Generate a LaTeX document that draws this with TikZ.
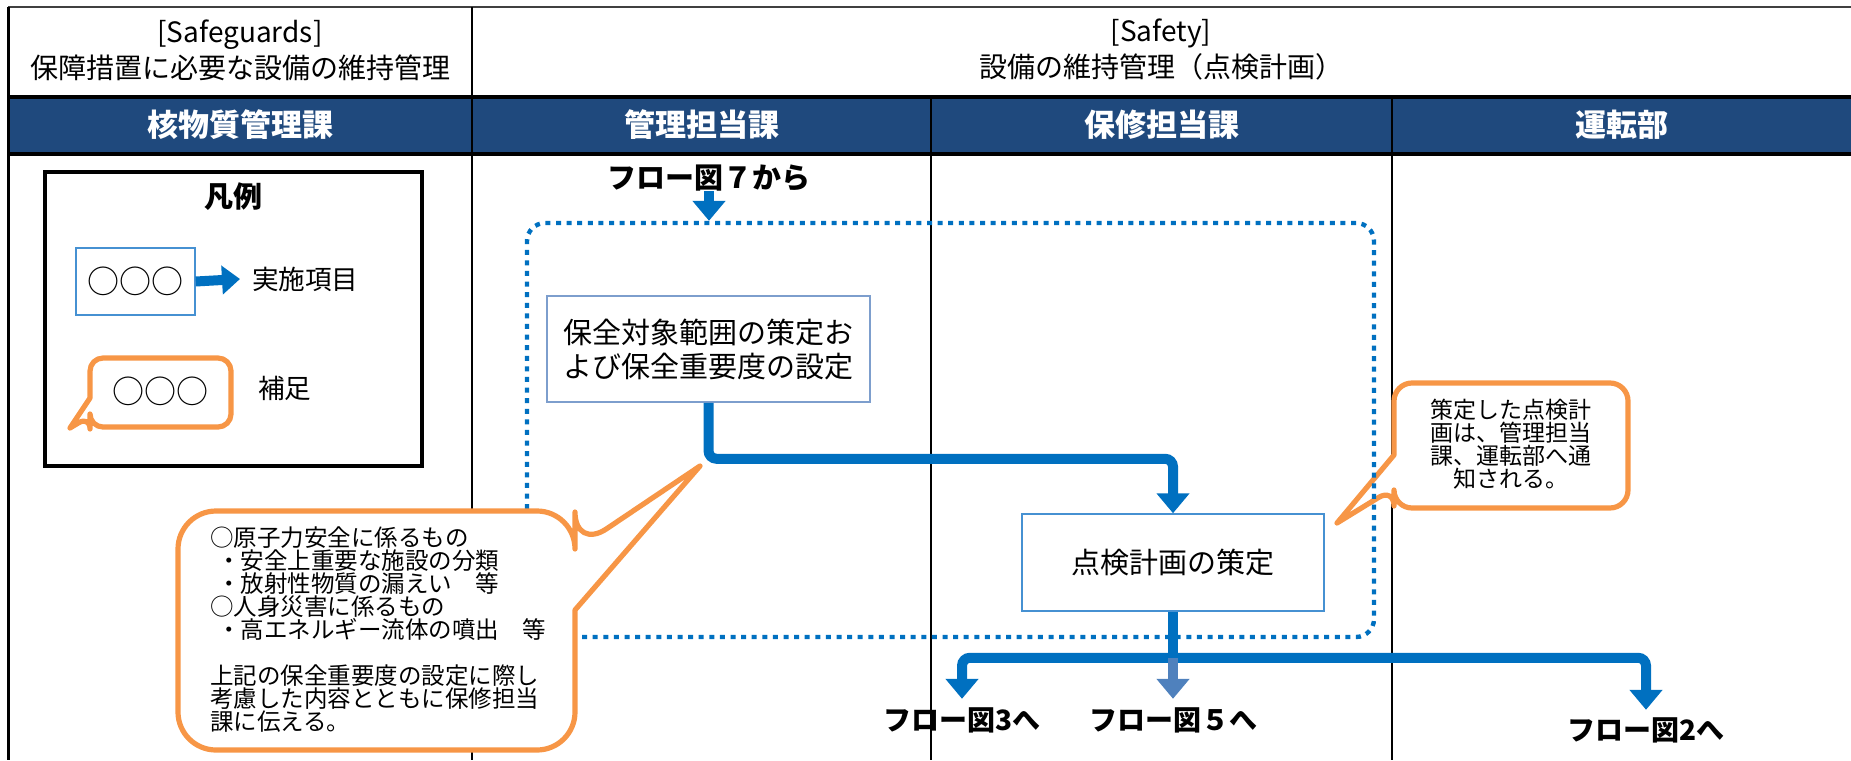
\documentclass[tikz,border=0pt]{standalone}
\usepackage{fontspec}
\setmainfont{Noto Sans CJK JP}
\usetikzlibrary{arrows.meta,calc}
\definecolor{hdrblue}{RGB}{31,73,125}
\definecolor{flowblue}{RGB}{0,112,192}
\definecolor{midblue}{RGB}{79,129,189}
\definecolor{boxone}{RGB}{125,158,205}
\definecolor{boxtwo}{RGB}{70,145,210}
\definecolor{callorange}{RGB}{247,150,70}
\newcommand\myfs[2]{\fontsize{#1}{#2}\selectfont}
\begin{document}
\begin{tikzpicture}[x=0.5pt,y=-0.5pt,
  txt/.style={inner sep=0pt, outer sep=0pt},
  hdr/.style={txt, text=white, font=\bfseries\myfs{15.5pt}{18pt}},
  stepbox/.style={draw=#1, line width=0.75pt, fill=white, inner sep=0pt, align=center, font=\myfs{14.5pt}{17pt}},
  flow/.style={draw=flowblue, line width=5pt, rounded corners=4pt, -{Triangle[width=16pt,length=10pt]}},
  flowline/.style={draw=flowblue, line width=5pt},
  bubble/.style={draw=callorange, line width=2.6pt, fill=white, line join=round},
  grid/.style={draw=black, line width=1.2pt},
  flowlabel/.style={txt, font=\bfseries\myfs{14.5pt}{16pt}},
]
\useasboundingbox (0,0) rectangle (1851,760);
% table
\fill[hdrblue] (8,97) rectangle (1851,154);
\draw[line width=1pt, draw=black!75] (8,7) -- (1851,7);
\draw[grid, line width=1.6pt] (8,97) -- (1851,97) (8,154) -- (1851,154);
\draw[grid, line width=1.5pt] (8,7) -- (8,760);
\draw[grid] (472,7) -- (472,760) (931,97) -- (931,760) (1392,97) -- (1392,760);
% header texts
\node[txt, align=center, font=\myfs{14pt}{18pt}] (sg) at (240,50) {[Safeguards]\\保障措置に必要な設備の維持管理};
\node[txt, align=center, font=\myfs{14pt}{18pt}] (sf) at (1161,50) {[Safety]\\設備の維持管理（点検計画）};
\node[hdr] (h1) at (240,125) {核物質管理課};
\node[hdr] (h2) at (701.5,125) {管理担当課};
\node[hdr] (h3) at (1161.5,125) {保修担当課};
\node[hdr] (h4) at (1621.5,125) {運転部};
% legend
\node[draw=black, line width=2pt, minimum width=188.5pt, minimum height=147pt, inner sep=0pt] (legend) at (233.5,319) {};
\node[txt, font=\bfseries\myfs{14.5pt}{16pt}] (lgtitle) at (233,197) {凡例};
\node[stepbox=boxtwo, minimum width=59.5pt, minimum height=33.5pt, font=\myfs{16pt}{18pt}] (lgbox) at (135.5,281.5) {○○○};
\node[txt, anchor=west, font=\myfs{13.3pt}{16pt}] (lgtext) at (252,279) {実施項目};
\draw[flow, -{Triangle[width=14pt,length=9pt]}] (lgbox.east) -- ([xshift=-6pt]lgtext.west);
\draw[bubble] (160,358) [rounded corners=6.5pt] -- (231,358) -- (231,427) -- (90,427) -- (90,416) [sharp corners] -- (70,428) -- (90,398) [rounded corners=6.5pt] -- (90,358) -- cycle;
\node[txt, font=\myfs{16pt}{18pt}] (lgctext) at (160,391) {○○○};
\node[txt, anchor=west, font=\myfs{13.3pt}{16pt}] (lgnote) at (258,388) {補足};
% callout 2 (under the frame)
\draw[bubble] (1511,383) [rounded corners=9pt] -- (1628,383) -- (1628,508) -- (1394,508) -- (1394,488) [sharp corners] -- (1337,523) -- (1394,455) [rounded corners=9pt] -- (1394,383) -- cycle;
\node[txt, align=center, font=\myfs{11.5pt}{11.4pt}] (c2text) at (1511,444) {策定した点検計\\画は、管理担当\\課、運転部へ通\\知される。};
% frame
\node[draw=flowblue, line width=2.2pt, dash pattern=on 2.5pt off 2.8pt, rounded corners=9pt, minimum width=423.5pt, minimum height=207pt, inner sep=0pt] (frame) at (950.5,430) {};
% flow
\node[flowlabel] (from7) at (709,178) {フロー図７から};
\draw[flow] (from7.south) -- (from7.south |- frame.north);
\node[stepbox=boxone, minimum width=161.5pt, minimum height=53pt] (b1) at (708.5,349) {保全対象範囲の策定お\\よび保全重要度の設定};
\node[stepbox=boxtwo, minimum width=151pt, minimum height=48.5pt] (b2) at (1173,562.5) {点検計画の策定};
\draw[flow] (b1.south) -- ++(0,56) -| (b2.north);
\coordinate (j) at ($(b2.south)+(0,46)$);
\node[flowlabel, font=\bfseries\myfs{14pt}{16pt}] (to3) at (962,720) {フロー図3へ};
\node[flowlabel, font=\bfseries\myfs{14pt}{16pt}] (to5) at (1173,720) {フロー図５へ};
\node[flowlabel, font=\bfseries\myfs{14pt}{16pt}] (to2) at (1646,730) {フロー図2へ};
\draw[flowline] (b2.south) -- (j);
\draw[flow] (j) -| ([yshift=4.25pt]to3.north);
\draw[flow] (j) -| ([yshift=3.75pt]to2.north);
\draw[flow, draw=midblue] (j) -- ([yshift=4.25pt]to5.north);
% callout 1
\draw[bubble] (376,511) [rounded corners=19pt] -- (575,511) -- (575,550) [sharp corners] -- (700,466) -- (575,610) [rounded corners=19pt] -- (575,750) -- (178,750) -- (178,511) -- cycle;
\node[txt, anchor=west, align=left, font=\myfs{11.75pt}{11.5pt}] (c1text) at (210,629.5) {○原子力安全に係るもの\\
\hspace*{3.5pt}・安全上重要な施設の分類\\
\hspace*{3.5pt}・放射性物質の漏えい　等\\
○人身災害に係るもの\\
\hspace*{3.5pt}・高エネルギー流体の噴出　等\\[11.5pt]
上記の保全重要度の設定に際し\\
考慮した内容とともに保修担当\\
課に伝える。};
\end{tikzpicture}
\end{document}
